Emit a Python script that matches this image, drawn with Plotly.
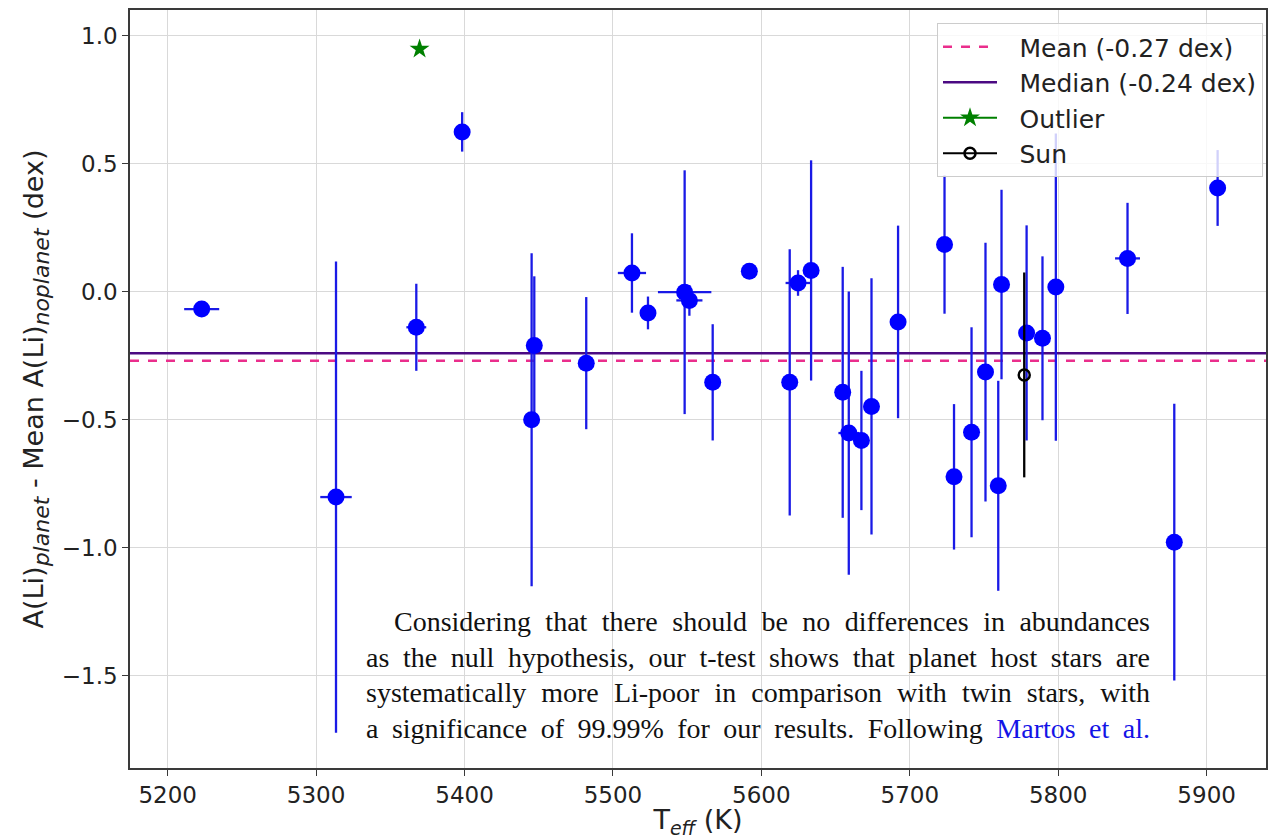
import plotly.graph_objects as go

# ---- data ----
teff = [5222.9, 5313.4, 5367.5, 5398.4, 5445.2, 5447.0, 5482.0, 5512.8, 5523.6,
        5548.3, 5551.5, 5567.2, 5591.9, 5619.1, 5624.7, 5633.5, 5654.8, 5658.9,
        5667.4, 5674.2, 5692.1, 5723.4, 5729.8, 5741.6, 5751.0, 5759.6, 5761.8,
        5778.7, 5789.4, 5798.4, 5846.7, 5878.2, 5907.4]
dali = [-0.068, -0.802, -0.139, 0.624, -0.500, -0.210, -0.279, 0.073, -0.083,
        -0.002, -0.034, -0.354, 0.080, -0.354, 0.034, 0.083, -0.393, -0.552,
        -0.581, -0.448, -0.118, 0.184, -0.723, -0.549, -0.314, -0.758, 0.028,
        -0.161, -0.182, 0.018, 0.130, -0.978, 0.405]
dali_err = [0.0, 0.92, 0.17, 0.077, 0.65, 0.27, 0.258, 0.155, 0.064,
            0.476, 0.06, 0.227, 0.0, 0.52, 0.05, 0.43, 0.49, 0.553,
            0.272, 0.50, 0.376, 0.27, 0.284, 0.41, 0.505, 0.41, 0.37,
            0.42, 0.32, 0.60, 0.217, 0.54, 0.148]
teff_err = [11.8, 10.6, 6.7, 0.0, 0.0, 5.0, 0.0, 9.5, 0.0,
            18.0, 8.8, 0.0, 0.0, 0.0, 8.4, 0.0, 5.0, 7.0,
            0.0, 0.0, 0.0, 0.0, 0.0, 0.0, 0.0, 0.0, 0.0,
            0.0, 0.0, 0.0, 8.4, 0.0, 0.0]

outlier_teff = [5369.7]
outlier_dali = [0.948]

sun_teff = [5777.1]
sun_dali = [-0.325]
sun_err = [0.40]

mean_val = -0.27
median_val = -0.24

x_range = [5174.6, 5940.0]
y_range = [-1.86, 1.10]
x_ticks = [5200, 5300, 5400, 5500, 5600, 5700, 5800, 5900]
y_ticks = [-1.5, -1.0, -0.5, 0.0, 0.5, 1.0]
y_ticktext = ["\u22121.5", "\u22121.0", "\u22120.5", "0.0", "0.5", "1.0"]

legend_labels = ["Mean (-0.27 dex)", "Median (-0.24 dex)", "Outlier", "Sun"]

text_lines = [
    "Considering that there should be no differences in abundances",
    "as the null hypothesis, our t-test shows that planet host stars are",
    "systematically more Li-poor in comparison with twin stars, with",
    "a significance of 99.99% for our results. Following <span style='color:#1414e6'>Martos et al.</span>",
]

# ---- figure ----
W, H = 1270, 839
ML, MR, MT, MB = 130, 2, 10, 71
PW, PH = W - ML - MR, H - MT - MB

def px_x(p):
    return (p - ML) / PW

def px_y(p):
    return (H - MB - p) / PH

LEG_PAD = "\u2002\u2009"

fig = go.Figure()

fig.add_trace(go.Scatter(
    x=x_range, y=[mean_val, mean_val], mode="lines",
    line=dict(color="#ea2e8c", width=2.5, dash="dash"),
    name=LEG_PAD + legend_labels[0], hoverinfo="skip"))
fig.add_trace(go.Scatter(
    x=x_range, y=[median_val, median_val], mode="lines",
    line=dict(color="#4b0a82", width=2.5),
    name=LEG_PAD + legend_labels[1], hoverinfo="skip"))

fig.add_trace(go.Scatter(
    x=teff, y=dali, mode="markers",
    marker=dict(color="#0000ff", size=17, line=dict(width=0)),
    error_y=dict(type="data", array=dali_err, color="#1a1ae6", thickness=2.3, width=0),
    error_x=dict(type="data", array=teff_err, color="#1a1ae6", thickness=2.3, width=0),
    showlegend=False))

fig.add_trace(go.Scatter(
    x=outlier_teff, y=outlier_dali, mode="lines+markers",
    marker=dict(symbol="star", color="#008000", size=15, line=dict(width=0)),
    line=dict(color="#008000", width=2),
    name=LEG_PAD + legend_labels[2]))

fig.add_trace(go.Scatter(
    x=sun_teff, y=sun_dali, mode="lines+markers",
    marker=dict(symbol="circle-open", color="#000000", size=11, line=dict(width=2.5)),
    line=dict(color="#000000", width=2),
    error_y=dict(type="data", array=sun_err, color="#000000", thickness=2.3, width=0),
    name=LEG_PAD + legend_labels[3]))

# white box behind the overlaid paragraph
fig.add_shape(type="rect", xref="paper", yref="paper",
              x0=px_x(358), x1=px_x(1165), y0=px_y(745), y1=px_y(603),
              fillcolor="white", line=dict(width=0), layer="between")

line_centers = [621, 657, 692.5, 728]
line_lefts = [393, 365, 365, 365]
for txt, yc, xl in zip(text_lines, line_centers, line_lefts):
    fig.add_annotation(
        text=txt, xref="paper", yref="paper", x=px_x(xl), y=px_y(yc),
        xanchor="left", yanchor="middle", align="left", showarrow=False,
        borderpad=0, name="justify",
        font=dict(family="Liberation Serif, Times New Roman, serif", size=28, color="#111111"))

axis_common = dict(
    showgrid=True, gridcolor="#d9d9d9", gridwidth=1.2, zeroline=False,
    showline=True, linecolor="#3a3a3a", linewidth=1.5, mirror=True,
    ticks="outside", ticklen=6, tickwidth=1.3, tickcolor="#3a3a3a",
    tickfont=dict(family="DejaVu Sans", size=23, color="#222222"),
)

sub = "<sub><span style='font-size:22px'><i>{}</i></span></sub>"
ytitle = "A(Li)" + sub.format("planet") + " - Mean A(Li)" + sub.format("noplanet") + " (dex)"

fig.update_layout(
    width=W, height=H,
    margin=dict(l=ML, r=MR, t=MT, b=MB),
    paper_bgcolor="white", plot_bgcolor="white",
    font=dict(family="DejaVu Sans", color="#222222"),
    xaxis=dict(range=x_range, tickvals=x_ticks, **axis_common,
               title=dict(text="T<sub><i>eff</i></sub> (K)", font=dict(size=27), standoff=6)),
    yaxis=dict(range=y_range, tickvals=y_ticks, ticktext=y_ticktext, **axis_common,
               title=dict(text=ytitle, font=dict(size=27), standoff=10)),
    legend=dict(x=px_x(1265), y=px_y(23), xanchor="right", yanchor="top",
                bgcolor="rgba(255,255,255,0.8)", bordercolor="#cccccc", borderwidth=1,
                itemwidth=54,
                font=dict(family="DejaVu Sans", size=25, color="#222222")),
    showlegend=True,
)

post = """
var gd = document.getElementById('{plot_id}');
document.body.style.margin = '0';
function justify(){
  var anns = gd.layout.annotations || [];
  var base = gd.getBoundingClientRect().left;
  anns.forEach(function(a, i){
    if (a.name !== 'justify') return;
    var t = gd.querySelector('.annotation[data-index="' + i + '"] text.annotation-text');
    if (!t) return;
    t.style.wordSpacing = '0px';
    var r = t.getBoundingClientRect();
    var n = (t.textContent.match(/ /g) || []).length;
    if (!n) return;
    var extra = (base + 1150 - r.right) / n;
    t.style.wordSpacing = extra + 'px';
  });
}
justify();
"""

fig.write_html("out.html", post_script=post, config={"displayModeBar": False})
